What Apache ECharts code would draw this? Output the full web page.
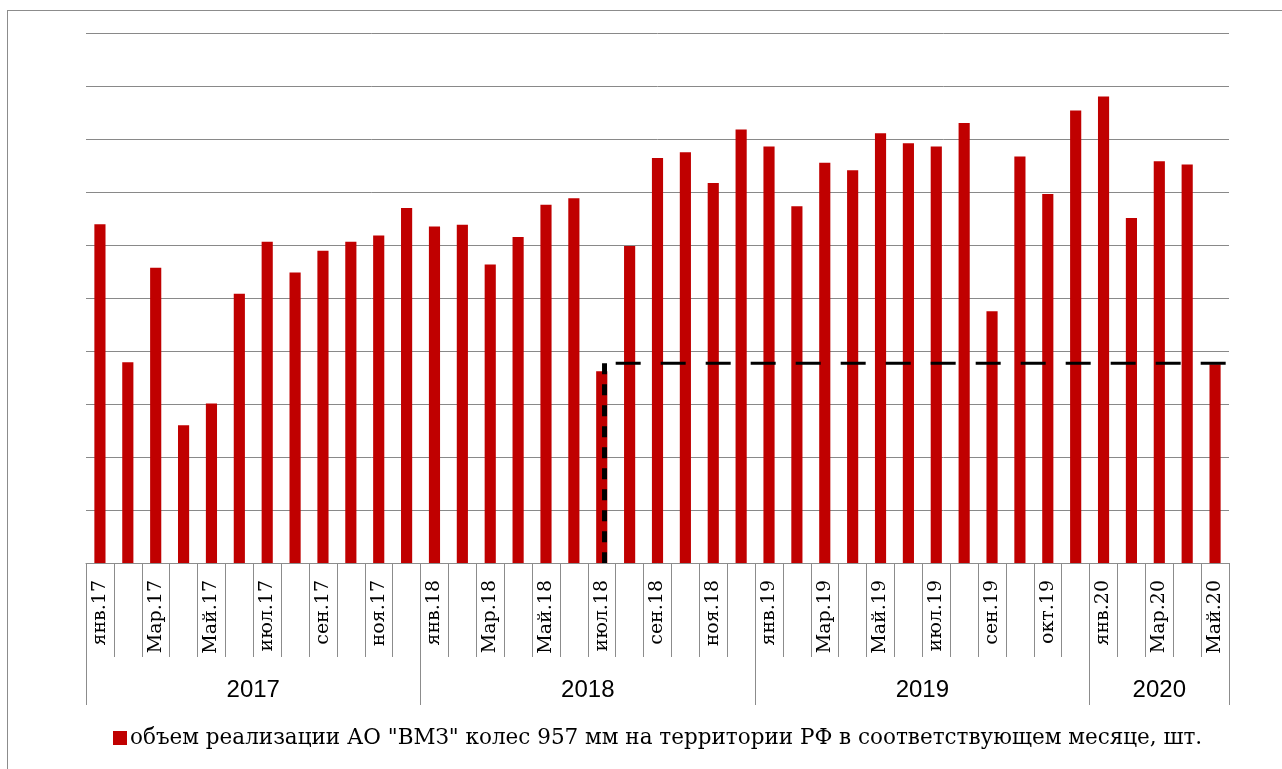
<!DOCTYPE html>
<html>
<head>
<meta charset="utf-8">
<script src="https://cdn.jsdelivr.net/npm/echarts@6/dist/echarts.min.js"></script>
<style>
  html, body { margin: 0; padding: 0; background: #fff; overflow: hidden; }
  #frame { position: absolute; left: 7px; top: 10px; width: 1300px; height: 800px; border: 1px solid #8c8c8c; box-sizing: border-box; }
  #chart { position: absolute; left: 0; top: 0; width: 1282px; height: 769px; }
</style>
</head>
<body>
<div id="frame"></div>
<div id="chart"></div>
<script>
// месяцы (подписи как на исходной диаграмме)
const months = [
  'янв.17','фев.17','Мар.17','апр.17','Май.17','июн.17','июл.17','авг.17','сен.17','окт.17','ноя.17','дек.17',
  'янв.18','фев.18','Мар.18','апр.18','Май.18','июн.18','июл.18','авг.18','сен.18','окт.18','ноя.18','дек.18',
  'янв.19','фев.19','Мар.19','апр.19','Май.19','июн.19','июл.19','авг.19','сен.19','окт.19','окт.19','дек.19',
  'янв.20','фев.20','Мар.20','апр.20','Май.20'
]
const years = ['2017', '2018', '2019', '2020']
const monthsPerYear = [12, 12, 12, 5]

// объем реализации (ось без подписей, условные единицы 0..100)
const sales = [
  63.9, 37.9, 55.7, 26.0, 30.1, 50.8, 60.6, 54.8, 58.9, 60.6, 61.8, 67.0,
  63.5, 63.8, 56.3, 61.5, 67.6, 68.8, 36.2, 59.8, 76.4, 77.5, 71.7, 81.8,
  78.6, 67.3, 75.5, 74.1, 81.1, 79.2, 78.6, 83.0, 47.5, 76.7, 69.6, 85.4,
  88.0, 65.1, 75.8, 75.2, 37.5
]
const yTicks = [0, 100, 10]   // min, max, шаг сетки

// пунктир: уровень и отметка июл.18 (в единицах месяцев)
const levelValue = 37.7
const levelFrom = 19
const cutoffAt = 18.6

const seriesName = 'объем реализации АО "ВМЗ" колес 957 мм на территории РФ в соответствующем месяце, шт.'

// границы и середины годов для второй (годовой) оси
const yearBounds = [0]
monthsPerYear.forEach(n => yearBounds.push(yearBounds[yearBounds.length - 1] + n))
const yearMids = years.map((y, i) => (yearBounds[i] + yearBounds[i + 1]) / 2)
const totalMonths = yearBounds[yearBounds.length - 1]

const chart = echarts.init(document.getElementById('chart'))
chart.setOption({
  animation: false,
  grid: { left: 86, right: 53, top: 33, bottom: 206, containLabel: false },
  legend: {
    data: [seriesName],
    left: 108,
    top: 722,
    icon: 'rect',
    itemWidth: 14,
    itemHeight: 14,
    textStyle: { fontFamily: 'DejaVu Serif', fontSize: 21.5, color: '#000', padding: [0, 0, 0, -2] }
  },
  xAxis: [
    {
      type: 'category',
      data: months,
      position: 'bottom',
      axisLine: { show: true, lineStyle: { color: '#8c8c8c', width: 1 } },
      axisTick: { show: true, interval: 0, length: 94, lineStyle: { color: '#8c8c8c', width: 1 } },
      axisLabel: {
        interval: 1,
        rotate: 90,
        margin: 17,
        padding: [8, 0, 0, 0],
        fontFamily: 'DejaVu Serif',
        fontSize: 19,
        color: '#000'
      }
    },
    {
      type: 'value',
      min: 0,
      max: totalMonths,
      position: 'bottom',
      axisLine: { show: false },
      splitLine: { show: false },
      axisTick: {
        show: true,
        length: 142,
        customValues: yearBounds,
        lineStyle: { color: '#8c8c8c' }
      },
      axisLabel: {
        customValues: yearMids,
        formatter: v => years[yearMids.indexOf(v)],
        margin: 115,
        fontFamily: 'Liberation Sans',
        fontSize: 24,
        color: '#000'
      }
    }
  ],
  yAxis: {
    type: 'value',
    min: yTicks[0],
    max: yTicks[1],
    interval: yTicks[2],
    axisLine: { show: false },
    axisTick: { show: false },
    axisLabel: { show: false },
    splitLine: { lineStyle: { color: '#898989', width: 1 } }
  },
  series: [
    {
      name: seriesName,
      type: 'bar',
      data: sales,
      barWidth: '40%',
      itemStyle: { color: '#c00000' }
    },
    {
      type: 'line',
      xAxisIndex: 1,
      data: [[levelFrom, levelValue], [totalMonths, levelValue]],
      symbol: 'none',
      silent: true,
      lineStyle: { color: '#000', width: 3, type: [25, 20] }
    },
    {
      type: 'line',
      xAxisIndex: 1,
      data: [[cutoffAt, levelValue], [cutoffAt, 0]],
      symbol: 'none',
      silent: true,
      lineStyle: { color: '#000', width: 5, type: [11, 10] }
    }
  ]
})
</script>
</body>
</html>
